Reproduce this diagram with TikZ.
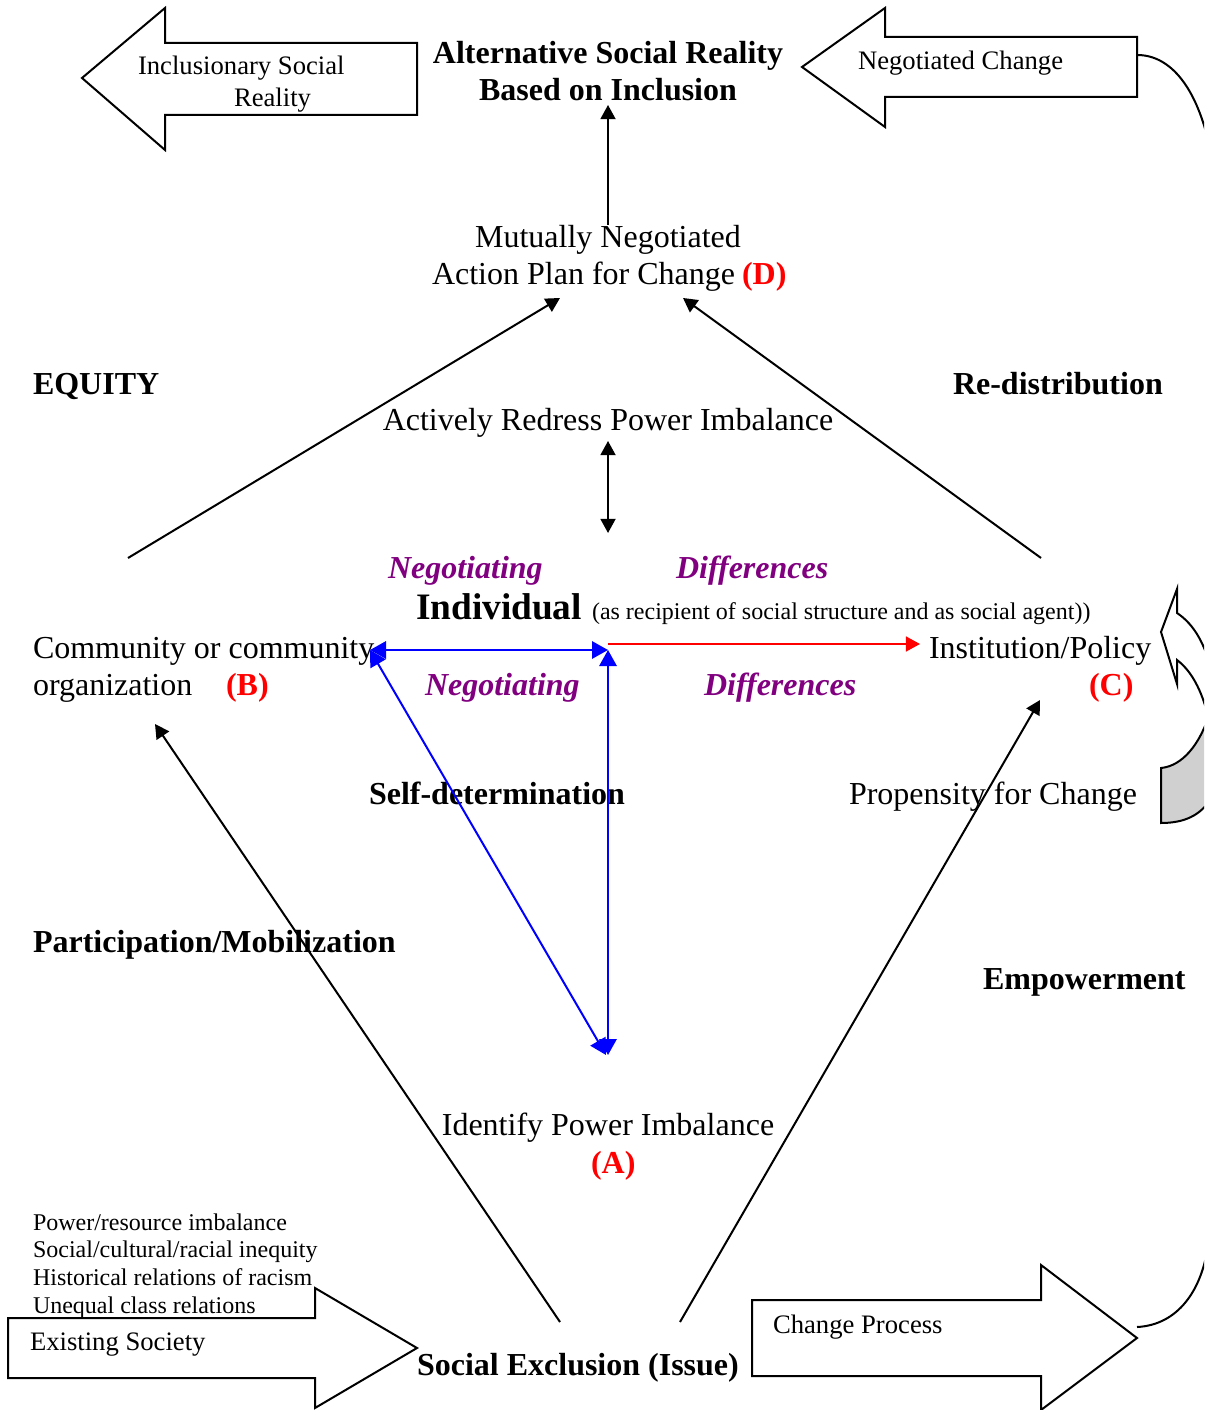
\documentclass[tikz,border=0pt]{standalone}
\usepackage{fontspec}
\setmainfont{Liberation Serif}
\usetikzlibrary{arrows.meta}
\definecolor{negpurple}{RGB}{128,0,128}
\definecolor{bandgray}{RGB}{208,208,208}
\tikzset{
  base/.style={inner sep=0pt, outer sep=0pt, yshift=-0.7pt},
  txt/.style={base, font=\fontsize{12}{14}\selectfont},
  smalltxt/.style={base, font=\fontsize{10}{12}\selectfont},
  tinytxt/.style={base, font=\fontsize{9}{11}\selectfont},
  bld/.style={base, font=\fontsize{12}{14}\selectfont\bfseries},
  neg/.style={base, text=negpurple, font=\fontsize{12}{14}\selectfont\bfseries\itshape},
  lbl/.style={base, text=red, font=\fontsize{12}{14}\selectfont\bfseries},
  conn/.style={line width=0.75pt, -{Triangle[length=5.3pt,width=5.6pt]}},
  dconn/.style={line width=0.75pt, {Triangle[length=5.3pt,width=5.6pt]}-{Triangle[length=5.3pt,width=5.6pt]}},
  bconn/.style={line width=0.75pt, blue, {Triangle[length=6pt,width=6.5pt]}-{Triangle[length=6pt,width=6.5pt]}},
  rconn/.style={line width=0.75pt, red, -{Triangle[length=5.3pt,width=5.6pt]}},
  blockarrow/.style={line width=0.75pt, fill=white, line join=miter},
}
\begin{document}
\begin{tikzpicture}[x=0.375pt, y=-0.375pt]
\useasboundingbox (0,0) rectangle (1204,1410);

% ---------- block arrows ----------
\draw[blockarrow] (82,78) -- (165,8) -- (165,43) -- (417,43) -- (417,115) -- (165,115) -- (165,150) -- cycle;
\draw[blockarrow] (802,67) -- (885,8) -- (885,37) -- (1137,37) -- (1137,97) -- (885,97) -- (885,127) -- cycle;
\draw[blockarrow] (8,1318) -- (315,1318) -- (315,1288) -- (417,1348) -- (315,1408) -- (315,1378) -- (8,1378) -- cycle;
\draw[blockarrow] (752,1300) -- (1041,1300) -- (1041,1265) -- (1137,1338) -- (1041,1410) -- (1041,1376) -- (752,1376) -- cycle;

% ---------- curves at right edge (clipped) ----------
\begin{scope}
  \clip (0,0) rectangle (1204,1410);
  \draw[line width=0.75pt] (1137,55) .. controls (1172,55) and (1196,90) .. (1208,140);
  \draw[line width=0.75pt] (1137,1327) .. controls (1178,1325) and (1202,1290) .. (1208,1245);
  % curved block arrow
  \fill[bandgray, draw=black, line width=0.75pt] (1161,768) .. controls (1182,766) and (1200,745) .. (1210,712)
      -- (1210,800) .. controls (1200,815) and (1185,823) .. (1161,823) -- cycle;
  \draw[line width=0.75pt, line join=miter] (1212,672) .. controls (1205,645) and (1195,625) .. (1177,613)
      -- (1177,589) -- (1161,632) -- (1177,684) -- (1177,660)
      .. controls (1193,672) and (1204,695) .. (1210,725);
\end{scope}

% ---------- texts ----------
\node[bld, anchor=base] (alt1) at (608,62) {Alternative Social Reality};
\node[bld, anchor=base] (alt2) at (608,99) {Based on Inclusion};
\node[smalltxt, anchor=base west] (incl1) at (138,73) {Inclusionary Social};
\node[smalltxt, anchor=base west] (incl2) at (234,105) {Reality};
\node[smalltxt, anchor=base west] (negch) at (858,68) {Negotiated Change};

\node[txt, anchor=base] (mut1) at (608,246) {Mutually Negotiated};
\node[txt, anchor=base west] (mut2) at (432,283) {Action Plan for Change};
\node[lbl, anchor=base west] (D) at (742,283) {(D)};

\node[bld, anchor=base west] (equity) at (33,393) {EQUITY};
\node[bld, anchor=base west] (redist) at (953,393) {Re-distribution};
\node[txt, anchor=base] (redress) at (608,429) {Actively Redress Power Imbalance};

\node[neg, anchor=base west] (neg1) at (388,577) {Negotiating};
\node[neg, anchor=base west] (dif1) at (676,577) {Differences};
\node[base, anchor=base west, font=\fontsize{14}{16}\selectfont\bfseries] (indiv) at (416,618) {Individual};
\node[tinytxt, anchor=base west] (indivsub) at (592,618) {(as recipient of social structure and as social agent))};

\node[txt, anchor=base west] (comm1) at (33,657) {Community or community};
\node[txt, anchor=base west] (comm2) at (33,694) {organization};
\node[lbl, anchor=base west] (B) at (226,694) {(B)};
\node[txt, anchor=base west] (inst) at (929,657) {Institution/Policy};
\node[lbl, anchor=base west] (C) at (1089,694) {(C)};
\node[neg, anchor=base west] (neg2) at (425,694) {Negotiating};
\node[neg, anchor=base west] (dif2) at (704,694) {Differences};

\node[bld, anchor=base west] (selfdet) at (369,803) {Self-determination};
\node[txt, anchor=base west] (prop) at (849,803) {Propensity for Change};
\node[bld, anchor=base west] (partic) at (33,951) {Participation/Mobilization};
\node[bld, anchor=base west] (empow) at (983,988) {Empowerment};

\node[txt, anchor=base] (ident) at (608,1134) {Identify Power Imbalance};
\node[lbl, anchor=base west] (A) at (591,1172) {(A)};

\node[tinytxt, anchor=base west] (l1) at (33,1229) {Power/resource imbalance};
\node[tinytxt, anchor=base west] (l2) at (33,1256) {Social/cultural/racial inequity};
\node[tinytxt, anchor=base west] (l3) at (33,1284) {Historical relations of racism};
\node[tinytxt, anchor=base west] (l4) at (33,1312) {Unequal class relations};
\node[smalltxt, anchor=base west] (exist) at (30,1349) {Existing Society};
\node[smalltxt, anchor=base west] (chproc) at (773,1332) {Change Process};
\node[bld, anchor=base west] (socex) at (417,1374) {Social Exclusion (Issue)};

% ---------- connector end points ----------
\coordinate (planTop) at (608,225);
\coordinate (altBottom) at (608,105);
\coordinate (commTop) at (128,558);
\coordinate (planLeft) at (560,298);
\coordinate (instTop) at (1041,558);
\coordinate (planRight) at (683,298);
\coordinate (redressBot) at (608,441);
\coordinate (indivTop) at (608,533);
\coordinate (commRight) at (370,650);
\coordinate (indivPt) at (608,650);
\coordinate (indivRed) at (608,644);
\coordinate (instLeft) at (920,644);
\coordinate (identTop) at (608,1055);
\coordinate (identTopL) at (606,1055);
\coordinate (exclL) at (560,1322);
\coordinate (commBot) at (155,724);
\coordinate (exclR) at (680,1322);
\coordinate (instBot) at (1040,700);

% ---------- connectors ----------
\draw[conn] (planTop) -- (altBottom);
\draw[conn] (commTop) -- (planLeft);
\draw[conn] (instTop) -- (planRight);
\draw[dconn] (redressBot) -- (indivTop);
\draw[conn] (exclL) -- (commBot);
\draw[conn] (exclR) -- (instBot);
\draw[rconn] (indivRed) -- (instLeft);
\draw[bconn] (commRight) -- (indivPt);
\draw[bconn] (indivPt) -- (identTop);
\draw[bconn] (commRight) -- (identTopL);
\end{tikzpicture}
\end{document}
